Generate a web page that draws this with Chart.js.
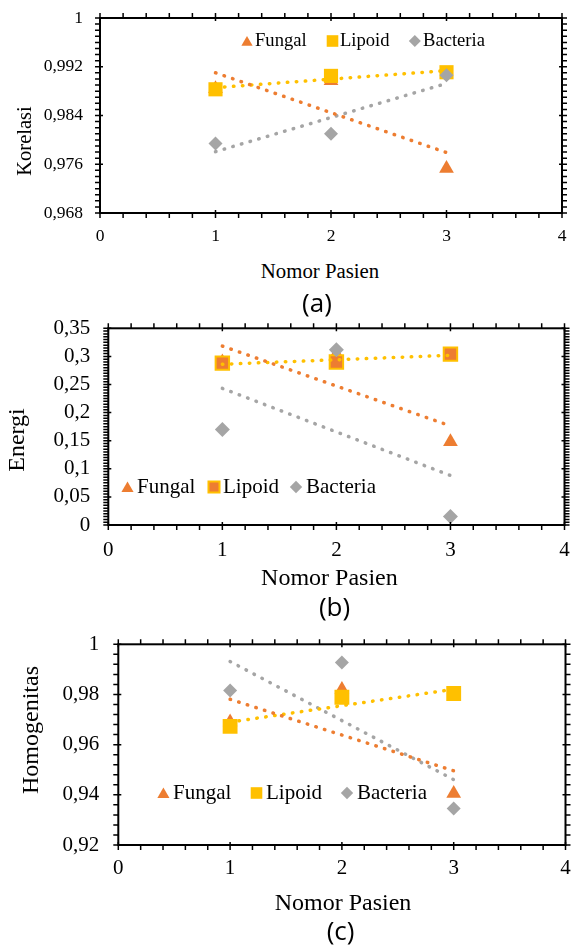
<!DOCTYPE html>
<html>
<head>
<meta charset="utf-8">
<script src="https://cdn.jsdelivr.net/npm/chart.js@4.4.1/dist/chart.umd.min.js"></script>
<style>
  body { margin: 0; background: #fff; }
  #page { position: relative; width: 576px; height: 949px; overflow: hidden; background: #fff; }
  canvas { position: absolute; left: 0; }
  .txt { position: absolute; white-space: nowrap; line-height: 1; color: #000; font-family: "Liberation Serif", "Times New Roman", serif; }
  .cap { font-family: "Open Sans", sans-serif; }
</style>
</head>
<body>
<div id="page">
  <canvas id="chartA" width="576" height="250" style="top:0px"></canvas>
  <canvas id="chartB" width="576" height="260" style="top:310px"></canvas>
  <canvas id="chartC" width="576" height="265" style="top:625px"></canvas>
</div>
<script>
const pasien = [1, 2, 3];
const seriesNames = ['Fungal', 'Lipoid', 'Bacteria'];
const xTicks = [0, 1, 2, 3, 4];
const xLabels = ['0', '1', '2', '3', '4'];

const korelasiFungal = [0.9884, 0.9897, 0.9753];
const korelasiLipoid = [0.9883, 0.9905, 0.9911];
const korelasiBacteria = [0.9794, 0.9810, 0.9906];
const korelasiTicks = [0.968, 0.976, 0.984, 0.992, 1];
const korelasiLabels = ['0,968', '0,976', '0,984', '0,992', '1'];

const energiFungal = [0.290, 0.304, 0.148];
const energiLipoid = [0.288, 0.290, 0.304];
const energiBacteria = [0.170, 0.312, 0.015];
const energiTicks = [0, 0.05, 0.1, 0.15, 0.2, 0.25, 0.3, 0.35];
const energiLabels = ['0', '0,05', '0,1', '0,15', '0,2', '0,25', '0,3', '0,35'];

const homogenFungal = [0.9690, 0.9820, 0.9405];
const homogenLipoid = [0.9673, 0.9789, 0.9804];
const homogenBacteria = [0.9816, 0.9927, 0.9345];
const homogenTicks = [0.92, 0.94, 0.96, 0.98, 1];
const homogenLabels = ['0,92', '0,94', '0,96', '0,98', '1'];

const ORANGE = '#ED7D31';
const YELLOW = '#FFC000';
const GRAY = '#A5A5A5';
const SERIF = "'Liberation Serif', 'Times New Roman', serif";

const toPoints = (xs, ys) => xs.map((x, i) => ({ x: x, y: ys[i] }));

// linear trendline (least squares), drawn from first to last patient
function trendline(xs, ys) {
  const n = xs.length;
  const mx = xs.reduce((a, b) => a + b, 0) / n;
  const my = ys.reduce((a, b) => a + b, 0) / n;
  let sxy = 0, sxx = 0;
  xs.forEach((x, i) => { sxy += (x - mx) * (ys[i] - my); sxx += (x - mx) * (x - mx); });
  const b = sxy / sxx;
  const a = my - b * mx;
  return [{ x: xs[0], y: a + b * xs[0] }, { x: xs[n - 1], y: a + b * xs[n - 1] }];
}

function drawMarker(ctx, shape, x, y, r, fill, stroke, lw) {
  ctx.beginPath();
  if (shape === 'triangle') {
    ctx.moveTo(x, y - r);
    ctx.lineTo(x + r * 0.866, y + r * 0.5);
    ctx.lineTo(x - r * 0.866, y + r * 0.5);
  } else if (shape === 'rect') {
    const s = r * Math.SQRT1_2;
    ctx.rect(x - s, y - s, 2 * s, 2 * s);
  } else {
    ctx.moveTo(x - r, y);
    ctx.lineTo(x, y - r);
    ctx.lineTo(x + r, y);
    ctx.lineTo(x, y + r);
  }
  ctx.closePath();
  ctx.fillStyle = fill;
  ctx.fill();
  if (lw) {
    ctx.lineWidth = lw;
    ctx.strokeStyle = stroke;
    ctx.stroke();
  }
}

// box with outside tick marks on all four sides, plus legend inside the plot
const framePlugin = {
  id: 'frame',
  afterDraw(chart, args, opts) {
    const ctx = chart.ctx;
    const a = chart.chartArea;
    const xs = chart.scales.x, ys = chart.scales.y;
    ctx.save();
    ctx.strokeStyle = '#000';
    ctx.lineWidth = 1.5;
    ctx.beginPath();
    const nx = Math.round((xs.max - xs.min) / opts.xMinor);
    for (let i = 0; i <= nx; i++) {
      const px = xs.getPixelForValue(xs.min + i * opts.xMinor);
      const major = i % Math.round(1 / opts.xMinor) === 0;
      ctx.moveTo(px, a.bottom - (major ? 3 : 0)); ctx.lineTo(px, a.bottom + 5);
      ctx.moveTo(px, a.top + (major ? 3 : 0)); ctx.lineTo(px, a.top - 5);
    }
    const ny = Math.round((ys.max - ys.min) / opts.yMinor);
    const per = Math.round(opts.yMajor / opts.yMinor);
    for (let i = 0; i <= ny; i++) {
      const py = ys.getPixelForValue(ys.min + i * opts.yMinor);
      const major = i % per === 0;
      ctx.moveTo(a.left + (major ? 3 : 0), py); ctx.lineTo(a.left - 5, py);
      ctx.moveTo(a.right - (major ? 3 : 0), py); ctx.lineTo(a.right + 5, py);
    }
    ctx.stroke();
    ctx.lineWidth = 2;
    ctx.strokeRect(a.left, a.top, a.right - a.left, a.bottom - a.top);

    ctx.font = opts.legendFont + 'px ' + SERIF;
    ctx.textBaseline = 'middle';
    ctx.textAlign = 'left';
    opts.legend.forEach((item) => {
      drawMarker(ctx, item.shape, item.mx, item.y + (item.shape === 'triangle' ? 1.5 : 0), item.r, item.fill, item.stroke, item.lw);
      ctx.fillStyle = '#000';
      ctx.fillText(item.text, item.tx, item.y);
    });
    ctx.restore();
  }
};

function makeChart(id, c) {
  const datasets = [
    { data: trendline(pasien, c.fungal), showLine: true, borderColor: ORANGE, borderWidth: 3.5,
      borderDash: [0.5, 8.5], borderCapStyle: 'round', pointRadius: 0, order: 0 },
    { data: trendline(pasien, c.lipoid), showLine: true, borderColor: YELLOW, borderWidth: 3.5,
      borderDash: [0.5, 8.5], borderCapStyle: 'round', pointRadius: 0, order: 0 },
    { data: trendline(pasien, c.bacteria), showLine: true, borderColor: GRAY, borderWidth: 3.5,
      borderDash: [0.5, 8.5], borderCapStyle: 'round', pointRadius: 0, order: 0 },
    { label: seriesNames[0], data: toPoints(pasien, c.fungal), pointStyle: 'triangle', pointRadius: 8.5,
      pointBackgroundColor: ORANGE, pointBorderColor: ORANGE, pointBorderWidth: 0, order: 3 },
    { label: seriesNames[1], data: toPoints(pasien, c.lipoid), pointStyle: 'rect', pointRadius: c.rectR,
      pointBackgroundColor: c.lipoidFill, pointBorderColor: YELLOW, pointBorderWidth: c.lipoidBorder, order: 2 },
    { label: seriesNames[2], data: toPoints(pasien, c.bacteria), pointStyle: 'rectRot', pointRadius: c.diaR,
      pointBackgroundColor: GRAY, pointBorderColor: GRAY, pointBorderWidth: 0, order: 1 }
  ];
  return new Chart(document.getElementById(id), {
    type: 'scatter',
    data: { datasets: datasets },
    plugins: [framePlugin],
    options: {
      responsive: false,
      animation: false,
      events: [],
      layout: { padding: c.padding },
      plugins: {
        legend: { display: false },
        tooltip: { enabled: false },
        frame: c.frame
      },
      scales: {
        x: {
          type: 'linear', min: 0, max: 4,
          grid: { display: false, drawTicks: false }, border: { display: false },
          afterBuildTicks: (s) => { s.ticks = xTicks.map((v) => ({ value: v })); },
          afterFit: (s) => { s.height = c.xHeight; s.paddingLeft = s.paddingRight = 0; },
          ticks: {
            color: '#000', padding: c.xPad, maxRotation: 0, autoSkip: false,
            font: { family: SERIF, size: c.tickFont },
            callback: (v) => xLabels[xTicks.indexOf(v)]
          }
        },
        y: {
          type: 'linear', min: c.yTicks[0], max: c.yTicks[c.yTicks.length - 1],
          grid: { display: false, drawTicks: false }, border: { display: false },
          afterBuildTicks: (s) => { s.ticks = c.yTicks.map((v) => ({ value: v })); },
          afterFit: (s) => { s.width = c.yWidth; s.paddingTop = s.paddingBottom = 0; },
          ticks: {
            color: '#000', padding: c.yPad, autoSkip: false,
            font: { family: SERIF, size: c.tickFont },
            callback: (v) => c.yLabels[c.yTicks.indexOf(v)]
          }
        }
      }
    }
  });
}

makeChart('chartA', {
  fungal: korelasiFungal, lipoid: korelasiLipoid, bacteria: korelasiBacteria,
  yTicks: korelasiTicks, yLabels: korelasiLabels,
  padding: { left: 0, right: 14, top: 18, bottom: 0 },
  yWidth: 100, xHeight: 37, xPad: 13.2, yPad: 17, tickFont: 17.5,
  rectR: 10, diaR: 7, lipoidFill: YELLOW, lipoidBorder: 0,
  frame: {
    xMinor: 0.2, yMinor: 0.001, yMajor: 0.008, legendFont: 18.6,
    legend: [
      { shape: 'triangle', mx: 247, tx: 255, y: 41, r: 6.5, text: 'Fungal', fill: ORANGE },
      { shape: 'rect', mx: 332.5, tx: 340, y: 41, r: 8.2, text: 'Lipoid', fill: YELLOW },
      { shape: 'diamond', mx: 414.8, tx: 423, y: 41, r: 6, text: 'Bacteria', fill: GRAY }
    ]
  }
});

makeChart('chartB', {
  fungal: energiFungal, lipoid: energiLipoid, bacteria: energiBacteria,
  yTicks: energiTicks, yLabels: energiLabels,
  padding: { left: 0, right: 4.3, top: 18.3, bottom: 0 },
  yWidth: 108.3, xHeight: 45, xPad: 12.4, yPad: 18, tickFont: 21,
  rectR: 9.5, diaR: 7.5, lipoidFill: ORANGE, lipoidBorder: 2,
  frame: {
    xMinor: 0.2, yMinor: 0.005, yMajor: 0.05, legendFont: 21,
    legend: [
      { shape: 'triangle', mx: 127.5, tx: 137, y: 487, r: 7, text: 'Fungal', fill: ORANGE },
      { shape: 'rect', mx: 214, tx: 223, y: 487, r: 7.8, text: 'Lipoid', fill: ORANGE, stroke: YELLOW, lw: 2 },
      { shape: 'diamond', mx: 296, tx: 306, y: 487, r: 6.2, text: 'Bacteria', fill: GRAY }
    ].map((it) => Object.assign(it, { y: it.y - 310 }))
  }
});

makeChart('chartC', {
  fungal: homogenFungal, lipoid: homogenLipoid, bacteria: homogenBacteria,
  yTicks: homogenTicks, yLabels: homogenLabels,
  padding: { left: 0, right: 8, top: 19.3, bottom: 0 },
  yWidth: 118.3, xHeight: 45, xPad: 10.4, yPad: 19, tickFont: 21,
  rectR: 10.5, diaR: 7, lipoidFill: YELLOW, lipoidBorder: 0,
  frame: {
    xMinor: 0.2, yMinor: 0.004, yMajor: 0.02, legendFont: 21,
    legend: [
      { shape: 'triangle', mx: 163.4, tx: 173, y: 793, r: 7, text: 'Fungal', fill: ORANGE },
      { shape: 'rect', mx: 256.5, tx: 266, y: 793, r: 8.2, text: 'Lipoid', fill: YELLOW },
      { shape: 'diamond', mx: 347, tx: 357, y: 793, r: 6.2, text: 'Bacteria', fill: GRAY }
    ].map((it) => Object.assign(it, { y: it.y - 625 }))
  }
});

// axis titles and panel captions
const page = document.getElementById('page');
function addText(text, cx, cy, size, rotate, cls) {
  const d = document.createElement('div');
  d.className = 'txt' + (cls ? ' ' + cls : '');
  d.textContent = text;
  d.style.fontSize = size + 'px';
  d.style.left = cx + 'px';
  d.style.top = cy + 'px';
  d.style.transform = 'translate(-50%, -50%)' + (rotate ? ' rotate(-90deg)' : '');
  page.appendChild(d);
}
addText('Korelasi', 24.3, 140.5, 20.5, true);
addText('Nomor Pasien', 320, 271, 20.8);
addText('(a)', 317, 302, 26, false, 'cap');
addText('Energi', 15.5, 440, 24, true);
addText('Nomor Pasien', 329.4, 577, 24);
addText('(b)', 334.5, 606, 26, false, 'cap');
addText('Homogenitas', 30, 730, 24, true);
addText('Nomor Pasien', 343, 902, 24);
addText('(c)', 340.6, 930, 26, false, 'cap');
</script>
</body>
</html>
